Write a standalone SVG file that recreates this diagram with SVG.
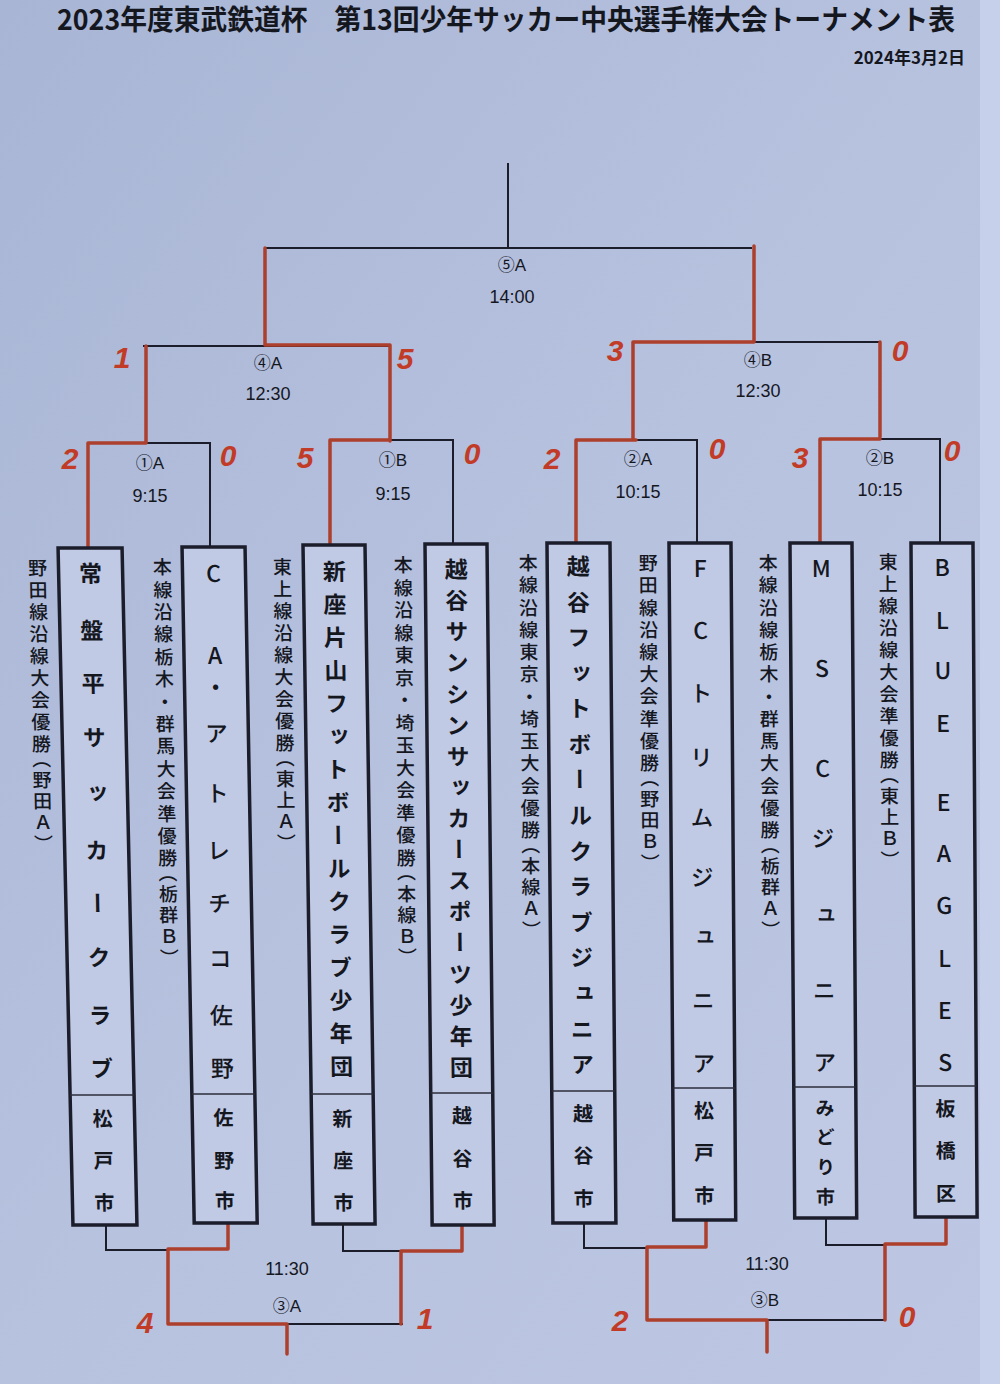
<svg xmlns="http://www.w3.org/2000/svg" width="1000" height="1384" viewBox="0 0 1000 1384">
<defs>
<linearGradient id="paper" x1="0" y1="0" x2="1" y2="1">
<stop offset="0" stop-color="#a8b5d4"/>
<stop offset="0.5" stop-color="#b7c2df"/>
<stop offset="1" stop-color="#bdc7e3"/>
</linearGradient>
<style>
.ln{stroke:#1b1d2b;stroke-width:2;fill:none}
.rd{stroke:#ad3f2d;stroke-width:3.5;fill:none;stroke-linecap:round;stroke-linejoin:round}
.box{fill:#c1cae5;stroke:#1b1d2b;stroke-width:3.5}
.dv{stroke:#2a2d3a;stroke-width:1.3}
.v{font-family:"Noto Sans CJK JP",sans-serif;writing-mode:vertical-rl;fill:#15171f}
.tm{font-size:23px;font-weight:500}
.b{font-weight:700}
.up{text-orientation:upright}
.ct{font-size:20px;font-weight:700}
.an{font-size:19px;font-weight:500}
.lb{font-family:"Liberation Sans","Noto Sans CJK JP",sans-serif;font-size:17px;text-anchor:middle;fill:#15171f}
.tt{font-family:"Liberation Sans",sans-serif;font-size:18px;text-anchor:middle;fill:#15171f}
.sc{font-family:"Liberation Sans",sans-serif;font-weight:700;font-style:italic;font-size:30px;fill:#c23b26;text-anchor:middle}
</style>
</defs>
<rect x="0" y="0" width="1000" height="1384" fill="url(#paper)"/>
<rect x="980" y="0" width="20" height="1384" fill="#c6d0ea"/>

<g id="title">
<text x="57" y="30" font-family="Noto Sans CJK JP, sans-serif" font-weight="700" font-size="28" fill="#15171f" textLength="898" lengthAdjust="spacingAndGlyphs">2023年度東武鉄道杯　第13回少年サッカー中央選手権大会トーナメント表</text>
<text x="965" y="64" font-family="Noto Sans CJK JP, sans-serif" font-weight="700" font-size="17" fill="#15171f" text-anchor="end">2024年3月2日</text>
</g>

<g id="connectors">
<path class="ln" d="M508,163 V247 M265,248 H752 M143,346 H390 M633,342 H880 M88,443 H210 V547 M330,440 H453 V544 M576,440 H697 V543 M820,439 H940 V543"/>
<path class="ln" d="M106,1225 V1250 H168 M343,1224 V1251 H401 M287,1324 H403 M584,1223 V1248 H647 M826,1218 V1245 H885 M767,1320 H885"/>
<path class="rd" d="M265,248 V345 H390 V441 M754,246 V342 H633 V438 M146,346 V443 H88 V548 M880,342 V437 M390,440 H330 V545 M636,440 H576 V543 M880,439 H820 V543"/>
<path class="rd" d="M228,1223 V1249 H168 V1324 H287 V1354 M462,1225 V1251 H401 V1324 M706,1220 V1247 H647 V1320 H767 V1352 M946,1217 V1244 H885 V1320"/>
</g>

<g id="match-labels">
<text class="lb" x="512" y="271">⑤A</text><text class="tt" x="512" y="303">14:00</text>
<text class="lb" x="268" y="369">④A</text><text class="tt" x="268" y="400">12:30</text>
<text class="lb" x="758" y="366">④B</text><text class="tt" x="758" y="397">12:30</text>
<text class="lb" x="150" y="469">①A</text><text class="tt" x="150" y="502">9:15</text>
<text class="lb" x="393" y="466">①B</text><text class="tt" x="393" y="500">9:15</text>
<text class="lb" x="638" y="465">②A</text><text class="tt" x="638" y="498">10:15</text>
<text class="lb" x="880" y="464">②B</text><text class="tt" x="880" y="496">10:15</text>
<text class="tt" x="287" y="1275">11:30</text><text class="lb" x="287" y="1312">③A</text>
<text class="tt" x="767" y="1270">11:30</text><text class="lb" x="765" y="1306">③B</text>
</g>

<g id="scores">
<text class="sc" x="122" y="368">1</text>
<text class="sc" x="405" y="369">5</text>
<text class="sc" x="70" y="469">2</text>
<text class="sc" x="228" y="466">0</text>
<text class="sc" x="305" y="468">5</text>
<text class="sc" x="472" y="464">0</text>
<text class="sc" x="615" y="361">3</text>
<text class="sc" x="900" y="361">0</text>
<text class="sc" x="552" y="469">2</text>
<text class="sc" x="717" y="459">0</text>
<text class="sc" x="800" y="468">3</text>
<text class="sc" x="952" y="461">0</text>
<text class="sc" x="145" y="1333">4</text>
<text class="sc" x="425" y="1329">1</text>
<text class="sc" x="620" y="1331">2</text>
<text class="sc" x="907" y="1327">0</text>
</g>

<g id="team1" transform="translate(0,545) skewX(1.26) translate(0,-545)">
<text class="v an" x="37" y="558.5 580.5 602.5 624.5 646.5 668.5 690.5 712.5 734.5 749 770.5 791.5 812.5 834">野田線沿線大会優勝（野田Ａ）</text>
<rect class="box" x="58" y="548" width="64" height="677"/>
<line class="dv" x1="58" y1="1095" x2="122" y2="1095"/>
<text class="v tm b" x="90" y="562 619 672 726 782 839 892 946 1004 1057">常盤平サッカークラブ</text>
<text class="v ct" x="90" y="1108 1150 1192">松戸市</text>
</g>

<g id="team2" transform="translate(0,545) skewX(1.03) translate(0,-545)">
<text class="v an" x="162" y="557.5 579.9 602.3 624.7 647.1 669.5 691.9 714.3 736.7 759.1 781.5 803.9 826.3 848.7 863 884.5 905.5 926.5 948">本線沿線栃木・群馬大会準優勝（栃群Ｂ）</text>
<rect class="box" x="182" y="547" width="63" height="676"/>
<line class="dv" x1="182" y1="1094" x2="245" y2="1094"/>
<text class="v tm up" x="213" y="562 644 676 722 782 839 892 947 1004 1057">CA・アトレチコ佐野</text>
<text class="v ct" x="213" y="1107 1150 1190">佐野市</text>
</g>

<g id="team3" transform="translate(0,545) skewX(0.85) translate(0,-545)">
<text class="v an" x="282" y="557.5 579.5 601.5 623.5 645.5 667.5 689.5 711.5 733.5 748 769.5 790.5 811.5 833">東上線沿線大会優勝（東上Ａ）</text>
<rect class="box" x="303" y="545" width="62" height="679"/>
<line class="dv" x1="303" y1="1094" x2="365" y2="1094"/>
<text class="v tm b" x="334" y="560 593 626 659 692 725 758 791 824 857 890 923 956 989 1022 1055">新座片山フットボールクラブ少年団</text>
<text class="v ct" x="334" y="1108 1150 1192">新座市</text>
</g>

<g id="team4" transform="translate(0,545) skewX(0.6) translate(0,-545)">
<text class="v an" x="403" y="555.5 578 600.5 623 645.5 668 690.5 713 735.5 758 780.5 803 825.5 848 862.5 884 905 926 947.5">本線沿線東京・埼玉大会準優勝（本線Ｂ）</text>
<rect class="box" x="425" y="544" width="62" height="681"/>
<line class="dv" x1="425" y1="1093" x2="487" y2="1093"/>
<text class="v tm b" x="456" y="558 589 620 651 683 714 745 776 807 838 869 900 931 963 994 1025 1056">越谷サンシンサッカースポーツ少年団</text>
<text class="v ct" x="456" y="1105 1148 1190">越谷市</text>
</g>

<g id="team5" transform="translate(0,545) skewX(0.5) translate(0,-545)">
<text class="v an" x="528" y="553.5 575.75 598 620.25 642.5 664.75 687 709.25 731.5 753.75 776 798.25 820.5 835 856.5 877.5 898.5 920">本線沿線東京・埼玉大会優勝（本線Ａ）</text>
<rect class="box" x="547" y="543" width="63" height="680"/>
<line class="dv" x1="547" y1="1091" x2="610" y2="1091"/>
<text class="v tm b" x="578" y="555 591 626 662 697 733 768 804 840 875 911 946 982 1018 1053">越谷フットボールクラブジュニア</text>
<text class="v ct" x="578" y="1103 1145 1188">越谷市</text>
</g>

<g id="team6" transform="translate(0,545) skewX(0.4) translate(0,-545)">
<text class="v an" x="648" y="553.5 575.7 597.9 620.1 642.3 664.5 686.7 708.9 731.1 753.3 768 789.5 810.5 831.5 853">野田線沿線大会準優勝（野田Ｂ）</text>
<rect class="box" x="669" y="543" width="62" height="677"/>
<line class="dv" x1="669" y1="1088" x2="731" y2="1088"/>
<text class="v tm up" x="700" y="557 619 682 746 806 866 926 989 1052">FCトリムジュニア</text>
<text class="v ct" x="700" y="1100 1142 1185">松戸市</text>
</g>

<g id="team7" transform="translate(0,545) skewX(0.4) translate(0,-545)">
<text class="v an" x="768" y="553.5 575.75 598 620.25 642.5 664.75 687 709.25 731.5 753.75 776 798.25 820.5 835 856.5 877.5 898.5 920">本線沿線栃木・群馬大会優勝（栃群Ａ）</text>
<rect class="box" x="790" y="543" width="62" height="675"/>
<line class="dv" x1="790" y1="1087" x2="852" y2="1087"/>
<text class="v tm up" x="821" y="557 657 757 827 904 979 1051">MSCジュニア</text>
<text class="v ct" x="821" y="1098.5 1127.5 1157.5 1187.5" style="font-size:19px">みどり市</text>
</g>

<g id="team8" transform="translate(0,545) skewX(0.35) translate(0,-545)">
<text class="v an" x="888" y="552.5 574.5 596.5 618.5 640.5 662.5 684.5 706.5 728.5 750.5 765 786.5 807.5 828.5 850">東上線沿線大会準優勝（東上Ｂ）</text>
<rect class="box" x="911" y="543" width="62" height="674"/>
<line class="dv" x1="911" y1="1086" x2="973" y2="1086"/>
<text class="v tm up" x="942" y="556 609 659 712 750 791 842 894 947 999 1051">BLUE EAGLES</text>
<text class="v ct" x="942" y="1098 1140 1183">板橋区</text>
</g>
</svg>
